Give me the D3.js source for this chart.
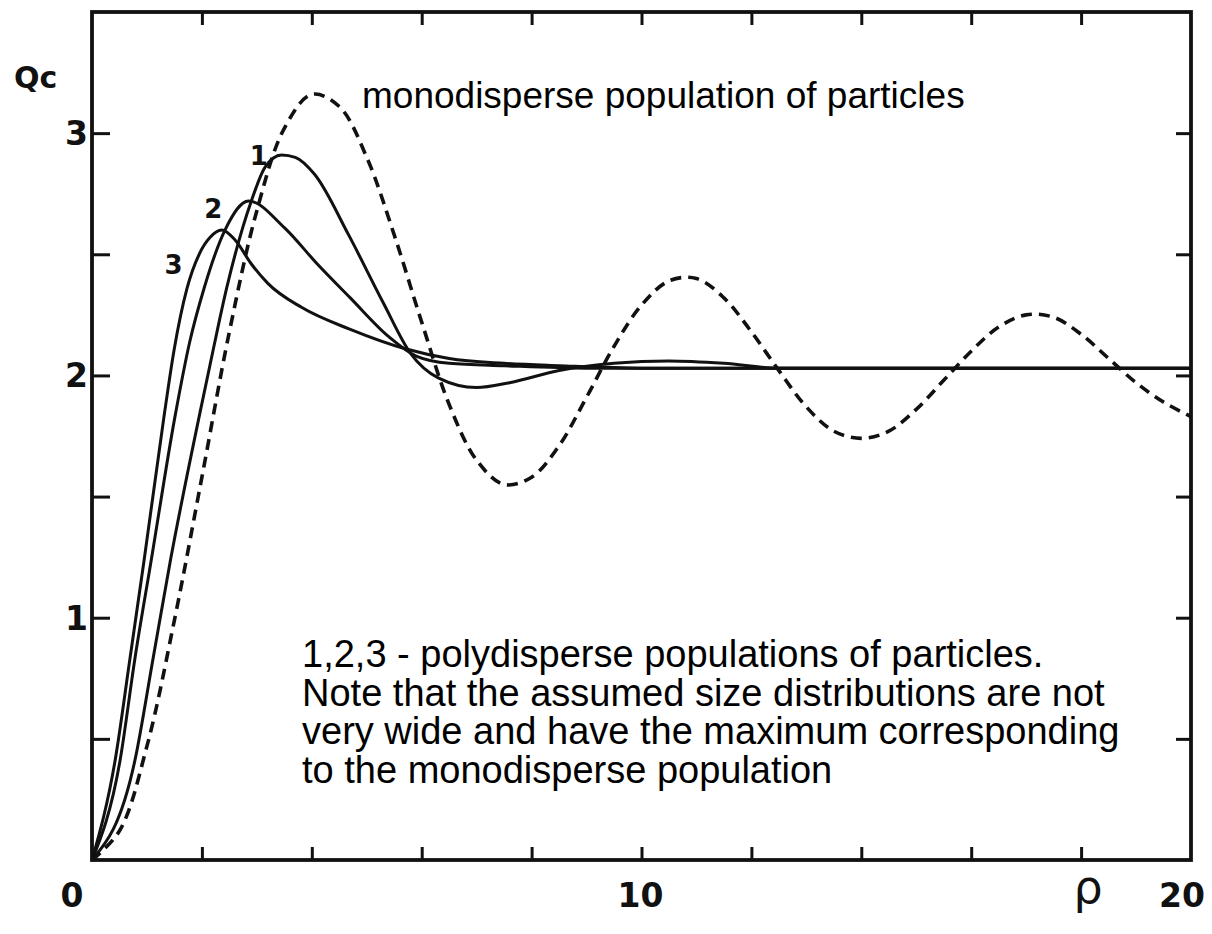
<!DOCTYPE html>
<html>
<head>
<meta charset="utf-8">
<script src="https://cdn.jsdelivr.net/npm/d3@7"></script>
<style>
  html, body { margin: 0; padding: 0; background: #fff; }
  svg { display: block; }
  .plotter { font-family: "DejaVu Sans", sans-serif; font-weight: bold; fill: #111; }
  .plotter.thin { font-weight: normal; }
  .note { font-family: "Liberation Sans", Arial, sans-serif; fill: #000; }
</style>
</head>
<body>
<svg id="chart" width="1212" height="934"></svg>
<script>
// Extinction efficiency Qc versus size parameter rho.
// Monodisperse population (dashed)
const rhoMono = [0, 0.5, 1, 1.5, 2, 2.5, 3, 3.5, 4, 4.5, 5, 5.5, 6, 6.5, 7, 7.5, 8, 8.5, 9, 9.5,
                 10, 10.5, 11, 11.5, 12, 12.5, 13, 13.5, 14, 14.5, 15, 15.5, 16, 16.5, 17, 17.5,
                 18, 18.5, 19, 19.5, 20];
const qMono = [0, 0.12, 0.47, 0.99, 1.58, 2.18, 2.68, 3.02, 3.16, 3.11, 2.90, 2.58, 2.22, 1.88,
               1.65, 1.55, 1.58, 1.71, 1.91, 2.12, 2.29, 2.39, 2.40, 2.32, 2.18, 2.02, 1.87,
               1.77, 1.74, 1.77, 1.86, 1.98, 2.10, 2.20, 2.25, 2.24, 2.17, 2.07, 1.97, 1.89, 1.83];

// Polydisperse populations 1, 2, 3 (solid)
const rhoPoly1 = [0, 0.78, 1.11, 1.43, 1.95, 2.2, 2.45, 2.9, 3.15, 3.45, 3.7, 4.05, 4.67, 5.3,
                  5.8, 6.3, 7.0, 7.6, 8.5, 9.5, 10.5, 11.5, 12.5, 14, 16, 18, 20];
const qPoly1 = [0, 0.41, 0.83, 1.24, 1.83, 2.10, 2.36, 2.72, 2.86, 2.91, 2.90, 2.83, 2.58, 2.30,
                2.09, 1.99, 1.95, 1.97, 2.02, 2.05, 2.06, 2.05, 2.03, 2.03, 2.03, 2.03, 2.03];

const rhoPoly2 = [0, 0.51, 0.78, 1.08, 1.51, 1.78, 2.04, 2.42, 2.85, 3.5, 4.1, 4.7, 5.4, 5.9,
                  6.5, 7.5, 9, 11, 13, 15, 17, 20];
const qPoly2 = [0, 0.41, 0.83, 1.24, 1.83, 2.14, 2.36, 2.60, 2.72, 2.61, 2.46, 2.32, 2.16, 2.08,
                2.05, 2.04, 2.03, 2.03, 2.03, 2.03, 2.03, 2.03];

const rhoPoly3 = [0, 0.42, 0.69, 0.95, 1.31, 1.49, 1.73, 1.95, 2.15, 2.36, 2.6, 2.9, 3.2, 3.82,
                  4.7, 5.7, 6.5, 7.5, 8.5, 10, 12, 14, 16, 18, 20];
const qPoly3 = [0, 0.41, 0.83, 1.24, 1.83, 2.10, 2.36, 2.50, 2.57, 2.60, 2.56, 2.46, 2.38, 2.28,
                2.19, 2.11, 2.07, 2.05, 2.04, 2.03, 2.03, 2.03, 2.03, 2.03, 2.03];

// Tick positions and labels
const xTickMarks = [2, 4, 6, 8, 10, 12, 14, 16, 18];
const yTickMarks = [0.5, 1, 1.5, 2, 2.5, 3];
const xTickLabels = [0, 10, 20];
const yTickLabels = [1, 2, 3];

// Curve tags placed beside the peaks of the polydisperse curves
const curveTags = ["1", "2", "3"];
const curveTagRho = [3.2, 2.37, 1.65];
const curveTagQ = [2.87, 2.65, 2.42];

const monoNote = "monodisperse population of particles";
const polyNote = [
  "1,2,3 - polydisperse populations of particles.",
  "Note that the assumed size distributions are not",
  "very wide and have the maximum corresponding",
  "to the monodisperse population"
];

const svg = d3.select("#chart");
const x = d3.scaleLinear().domain([0, 20]).range([92, 1191]);
const y = d3.scaleLinear().domain([0, 3.5]).range([860, 12]);

const zip = (a, b) => a.map((v, i) => [v, b[i]]);

const monoLine = d3.line()
  .x(d => x(d[0]))
  .y(d => y(d[1]))
  .curve(d3.curveCatmullRom.alpha(0.5));

const polyLine = d3.line()
  .x(d => x(d[0]))
  .y(d => y(d[1]))
  .curve(d3.curveMonotoneX);

// Curves
const curves = svg.append("g").attr("fill", "none").attr("stroke", "#111")
  .attr("stroke-linejoin", "round");

[[rhoPoly1, qPoly1], [rhoPoly2, qPoly2], [rhoPoly3, qPoly3]].forEach(([r, q]) => {
  curves.append("path")
    .attr("d", polyLine(zip(r, q)))
    .attr("stroke-width", 3);
});

curves.append("path")
  .attr("d", monoLine(zip(rhoMono, qMono)))
  .attr("stroke-width", 3.6)
  .attr("stroke-dasharray", "11 7");

// Frame
svg.append("rect")
  .attr("x", x(0)).attr("y", y(3.5))
  .attr("width", x(20) - x(0)).attr("height", y(0) - y(3.5))
  .attr("fill", "none").attr("stroke", "#111").attr("stroke-width", 3.8);

// Inward ticks on all four sides
function styleTicks(g) {
  g.select(".domain").remove();
  g.selectAll(".tick line").attr("stroke", "#111").attr("stroke-width", 3);
  g.selectAll(".tick text").remove();
}
svg.append("g").attr("transform", `translate(0,${y(0)})`)
  .call(d3.axisBottom(x).tickValues(xTickMarks).tickSize(-13).tickFormat(""))
  .call(styleTicks);
svg.append("g").attr("transform", `translate(0,${y(3.5)})`)
  .call(d3.axisTop(x).tickValues(xTickMarks).tickSize(-13).tickFormat(""))
  .call(styleTicks);
svg.append("g").attr("transform", `translate(${x(0)},0)`)
  .call(d3.axisLeft(y).tickValues(yTickMarks).tickSize(-18).tickFormat(""))
  .call(styleTicks);
svg.append("g").attr("transform", `translate(${x(20)},0)`)
  .call(d3.axisRight(y).tickValues(yTickMarks).tickSize(-15).tickFormat(""))
  .call(styleTicks);

// Tick labels
svg.append("g").attr("class", "plotter").attr("font-size", 33)
  .selectAll("text").data(yTickLabels).join("text")
  .attr("x", x(0) - 4)
  .attr("y", d => y(d) + 12)
  .attr("text-anchor", "end")
  .text(d => d);

const xLabelShift = [-20, -1, -9];
svg.append("g").attr("class", "plotter").attr("font-size", 33)
  .selectAll("text").data(xTickLabels).join("text")
  .attr("x", (d, i) => x(d) + xLabelShift[i])
  .attr("y", 907)
  .attr("text-anchor", "middle")
  .text(d => d);

// Axis titles
svg.append("text").attr("class", "plotter")
  .attr("x", 14).attr("y", 88).attr("font-size", 30)
  .text("Qc");
svg.append("text").attr("class", "plotter thin")
  .attr("x", 1088).attr("y", 903).attr("font-size", 46)
  .attr("text-anchor", "middle")
  .text("ρ");

// Curve tags
svg.append("g").attr("class", "plotter").attr("font-size", 26)
  .selectAll("text").data(curveTags).join("text")
  .attr("x", (d, i) => x(curveTagRho[i]))
  .attr("y", (d, i) => y(curveTagQ[i]))
  .attr("text-anchor", "end")
  .text(d => d);

// Notes
svg.append("text").attr("class", "note")
  .attr("x", 362).attr("y", 108).attr("font-size", 37)
  .text(monoNote);

svg.append("g").attr("class", "note").attr("font-size", 38)
  .selectAll("text").data(polyNote).join("text")
  .attr("x", 302)
  .attr("y", (d, i) => 667 + i * 38.7)
  .text(d => d);
</script>
</body>
</html>
